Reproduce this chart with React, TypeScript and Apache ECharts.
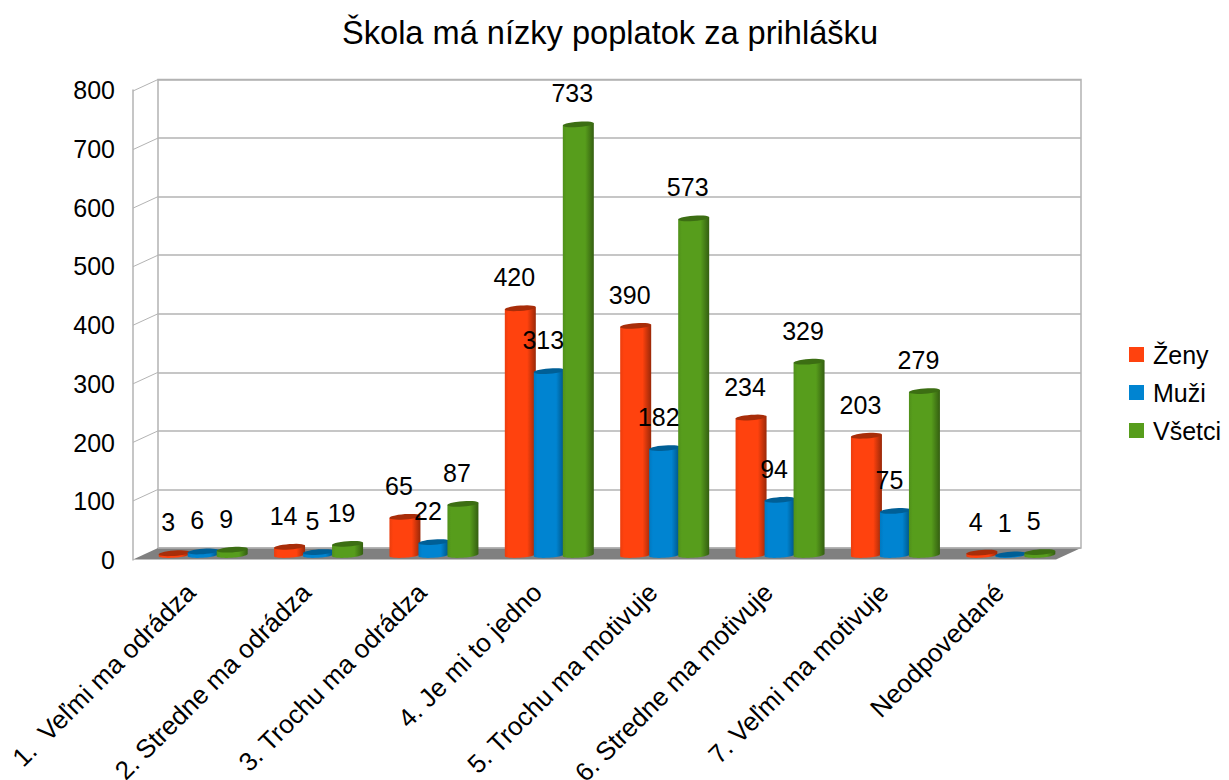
import React, { useEffect, useRef } from "react";
import * as echarts from "echarts";

const title = "Škola má nízky poplatok za prihlášku";
const categories = [
  "1.  Veľmi ma odrádza",
  "2. Stredne ma odrádza",
  "3. Trochu ma odrádza",
  "4. Je mi to jedno",
  "5. Trochu ma motivuje",
  "6. Stredne ma motivuje",
  "7. Veľmi ma motivuje",
  "Neodpovedané",
];
const zeny = [3, 14, 65, 420, 390, 234, 203, 4];
const muzi = [6, 5, 22, 313, 182, 94, 75, 1];
const vsetci = [9, 19, 87, 733, 573, 329, 279, 5];
const ticks = [0, 100, 200, 300, 400, 500, 600, 700, 800];

const FONT = "Liberation Sans";
const GRID_LINE = "#b3b3b3";
const DX = 25;
const DY = 11.5;

function shade(hex: string, k: number) {
  const n = parseInt(hex.slice(1), 16);
  const c = [(n >> 16) & 255, (n >> 8) & 255, n & 255].map((v) => Math.round(v * k));
  return `rgb(${c[0]},${c[1]},${c[2]})`;
}

function ellipsePts(cx: number, cy: number, rx: number, ry: number, from: number, to: number, n = 28) {
  const pts: number[][] = [];
  for (let i = 0; i <= n; i++) {
    const t = from + ((to - from) * i) / n;
    const dx = rx * Math.cos(t);
    pts.push([cx + dx, cy + ry * Math.sin(t) - 0.07 * dx]);
  }
  return pts;
}

function barSeries(name: string, values: number[], color: string, topColor: string, index: number) {
  return {
    name,
    type: "custom",
    xAxisIndex: 2,
    yAxisIndex: 2,
    clip: false,
    itemStyle: { color },
    data: values.map((v, i) => [i, v]),
    renderItem: (_p: any, api: any) => {
      const cat = api.value(0);
      const val = api.value(1);
      const top = api.coord([cat, val]);
      const base = api.coord([cat, 0]);
      const cx = top[0] + (index - 1) * 29;
      const rx = 15.5;
      const ry = 2.7;
      const fill = new echarts.graphic.LinearGradient(0, 0, 1, 0, [
        { offset: 0, color: shade(color, 0.92) },
        { offset: 0.12, color },
        { offset: 0.72, color },
        { offset: 1, color: shade(color, 0.6) },
      ]);
      const body = [
        [cx - rx, top[1] + 0.07 * rx],
        [cx + rx, top[1] - 0.07 * rx],
        ...ellipsePts(cx, base[1], rx, ry, 0, Math.PI),
      ];
      return {
        type: "group",
        children: [
          { type: "polygon", z2: 1, shape: { points: body }, style: { fill } },
          {
            type: "polygon",
            z2: 1,
            shape: { points: ellipsePts(cx, top[1], rx, ry, 0, Math.PI * 2) },
            style: { fill: topColor },
          },
          {
            type: "text",
            z2: 100,
            style: {
              x: cx - 6,
              y: top[1] - 31,
              text: String(val),
              align: "center",
              verticalAlign: "middle",
              fill: "#000",
              fontFamily: FONT,
              fontSize: 25,
            },
          },
        ],
      };
    },
  };
}

export default function App() {
  const ref = useRef<HTMLDivElement>(null);
  useEffect(() => {
    const chart = echarts.init(ref.current!, null, { renderer: "svg" });
    const hiddenX = { type: "category", data: categories, show: false };
    chart.setOption({
      animation: false,
      backgroundColor: "#fff",
      title: {
        text: title,
        left: 337,
        top: 11,
        textStyle: { fontFamily: FONT, fontSize: 32.6, fontWeight: "normal", color: "#000" },
      },
      legend: {
        orient: "vertical",
        left: 1124,
        top: 337,
        itemWidth: 15,
        itemHeight: 15,
        itemGap: 13,
        icon: "rect",
        data: ["Ženy", "Muži", "Všetci"],
        textStyle: { fontFamily: FONT, fontSize: 25, color: "#000", padding: [0, 0, 0, 4] },
      },
      grid: [
        { left: 158, top: 79.5, width: 923, height: 468.5, outerBoundsMode: "none", show: true, borderColor: GRID_LINE, borderWidth: 1.5, backgroundColor: "transparent" },
        { left: 133, top: 90, width: 924, height: 470, outerBoundsMode: "none" },
        { left: 145.5, top: 85, width: 923, height: 470, outerBoundsMode: "none" },
      ],
      xAxis: [
        { ...hiddenX, gridIndex: 0 },
        {
          type: "category",
          gridIndex: 1,
          data: categories,
          axisLine: { show: false },
          axisTick: { show: false },
          axisLabel: { interval: 0, rotate: 45, margin: 28, fontFamily: FONT, fontSize: 26, color: "#000" },
        },
        { ...hiddenX, gridIndex: 2 },
      ],
      yAxis: [
        {
          type: "value",
          gridIndex: 0,
          min: 0,
          max: 800,
          interval: 100,
          axisLine: { show: false },
          axisTick: { show: false },
          axisLabel: { show: false },
          splitLine: { show: true, lineStyle: { color: GRID_LINE, width: 1.5 } },
        },
        {
          type: "value",
          gridIndex: 1,
          min: 0,
          max: 800,
          interval: 100,
          axisLine: { show: true, lineStyle: { color: GRID_LINE, width: 1.5 } },
          axisTick: { show: false },
          splitLine: { show: false },
          axisLabel: { margin: 18, fontFamily: FONT, fontSize: 25, color: "#000" },
        },
        { type: "value", gridIndex: 2, min: 0, max: 800, interval: 100, show: false, splitLine: { show: false } },
      ],
      series: [
        {
          type: "custom",
          xAxisIndex: 0,
          yAxisIndex: 0,
          clip: false,
          silent: true,
          z: 1,
          data: ticks.map((t) => [0, t]),
          renderItem: (params: any, api: any) => {
            const v = api.value(1);
            const p = api.coord([0, v]);
            const xl = params.coordSys.x;
            const xr = xl + params.coordSys.width;
            const children: any[] = [];
            if (v === 0) {
              children.push({
                type: "polygon",
                shape: { points: [[xl, p[1]], [xr, p[1]], [xr - DX, p[1] + DY], [xl - DX, p[1] + DY]] },
                style: { fill: "#808080" },
              });
              children.push({
                type: "line",
                shape: { x1: xl, y1: p[1], x2: xr, y2: p[1] },
                style: { stroke: GRID_LINE, lineWidth: 1.5 },
              });
            } else {
              children.push({
                type: "line",
                shape: { x1: xl, y1: p[1], x2: xl - DX, y2: p[1] + DY },
                style: { stroke: GRID_LINE, lineWidth: 1 },
              });
            }
            return { type: "group", children };
          },
        },
        barSeries("Ženy", zeny, "#ff420e", "#a82d09", 0),
        barSeries("Muži", muzi, "#0084d1", "#005f96", 1),
        barSeries("Všetci", vsetci, "#579d1c", "#3c6e13", 2),
      ],
    });
    return () => chart.dispose();
  }, []);
  return <div ref={ref} style={{ position: "fixed", left: 0, top: 0, width: 1229, height: 780 }} />;
}
